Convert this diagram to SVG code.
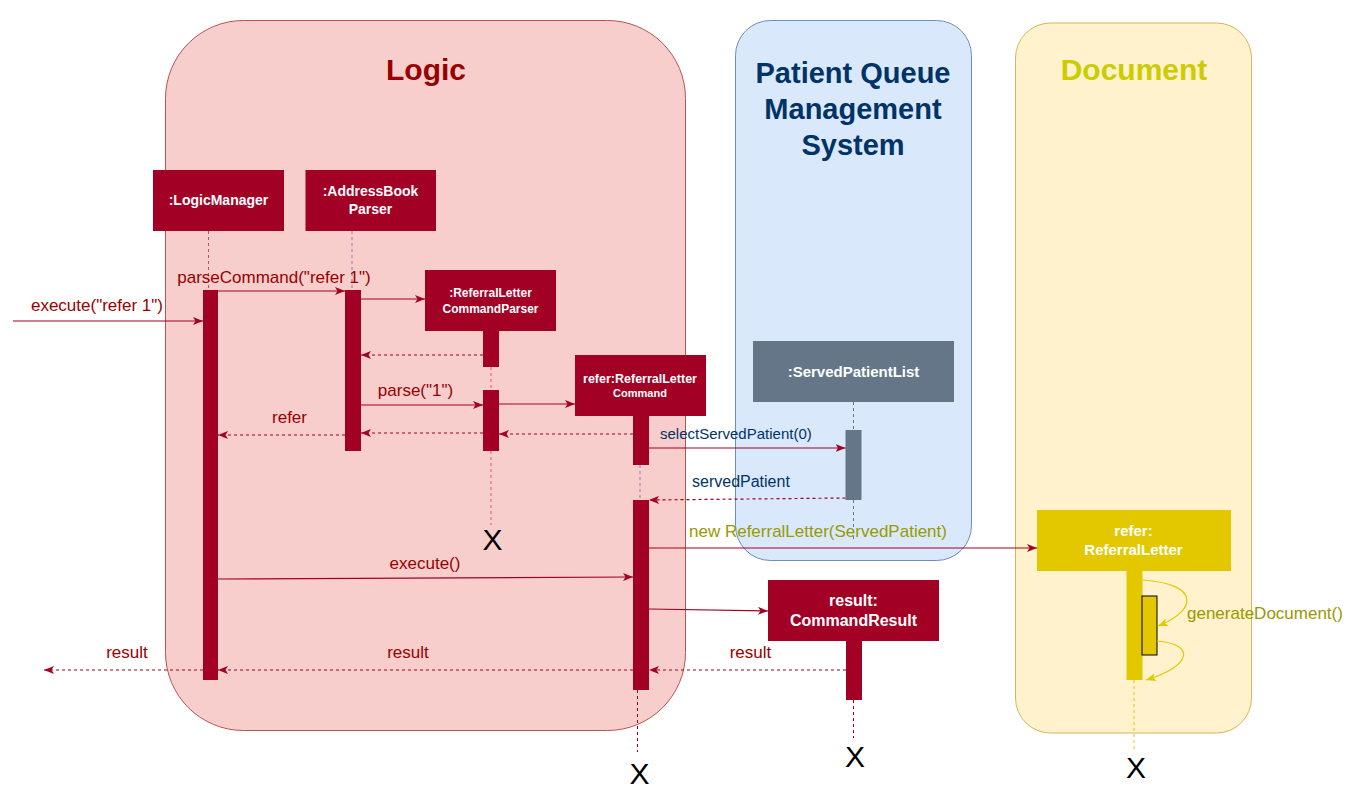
<svg xmlns="http://www.w3.org/2000/svg" width="1363" height="811" viewBox="0 0 1363 811">
<style>
text{font-family:"Liberation Sans",Arial,Helvetica,sans-serif}
.title{font-weight:bold;font-size:30px;text-anchor:middle}
.lbl{font-size:17px;fill:#990000;text-anchor:middle}
.nt{font-weight:bold;fill:#ffffff;text-anchor:middle}
.box{fill:#a20025}
.msg{stroke:#a20025;stroke-width:1.2;fill:none;marker-end:url(#arr)}
.ret{stroke:#a20025;stroke-width:1.2;fill:none;stroke-dasharray:3 3;marker-end:url(#arr)}
.life{stroke:#a20025;stroke-width:1;fill:none;stroke-dasharray:3 3}
.xx{font-size:30px;fill:#000000;text-anchor:middle}
</style>
<defs>
<marker id="arr" viewBox="0 0 10 8" refX="10" refY="4" markerWidth="10" markerHeight="8" markerUnits="userSpaceOnUse" orient="auto">
<path d="M0,0 L10,4 L0,8 L2.5,4 Z" fill="#a20025"/>
</marker>
<marker id="arrY" viewBox="0 0 10 8" refX="10" refY="4" markerWidth="10" markerHeight="8" markerUnits="userSpaceOnUse" orient="auto">
<path d="M0,0 L10,4 L0,8 L2.5,4 Z" fill="#e3c800"/>
</marker>
</defs>
<rect width="1363" height="811" fill="#ffffff"/>

<g id="logic-container">
<rect x="165.5" y="20.5" width="520" height="710" rx="78" ry="78" fill="#f8cecc" stroke="#b85450"/>
<text class="title" x="426" y="80" fill="#990000">Logic</text>
</g>
<g id="pqms-container">
<rect x="735.5" y="20.5" width="236" height="540" rx="35" ry="35" fill="#dae8fc" stroke="#6c8ebf"/>
<text class="title" x="853" y="83" fill="#003366" style="font-size:29px">Patient Queue</text>
<text class="title" x="853" y="119" fill="#003366" style="font-size:29px">Management</text>
<text class="title" x="853" y="155" fill="#003366" style="font-size:29px">System</text>
</g>
<g id="document-container">
<rect x="1015.5" y="23" width="236" height="710" rx="35" ry="35" fill="#fff2cc" stroke="#d6b656"/>
<text class="title" x="1134" y="80" fill="#cccc00">Document</text>
</g>

<g id="logicManager">
<rect class="box" x="153" y="170" width="131" height="61"/>
<text class="nt" x="218.5" y="205" style="font-size:14px">:LogicManager</text>
<line x1="208.5" y1="231" x2="208.5" y2="290" stroke="#c0506a" stroke-dasharray="3 3"/>
<rect class="box" x="203" y="290" width="15" height="390"/>
</g>

<g id="addressBookParser">
<rect class="box" x="305.5" y="170" width="130.5" height="61"/>
<text class="nt" x="370.5" y="196" style="font-size:14px">:AddressBook</text>
<text class="nt" x="370.5" y="214" style="font-size:14px">Parser</text>
<line x1="352" y1="231" x2="352" y2="290" stroke="#9673a6" stroke-dasharray="3 3"/>
<rect class="box" x="345" y="290" width="16" height="161"/>
</g>

<g id="referralLetterCommandParser">
<rect class="box" x="425" y="270" width="131" height="61"/>
<text class="nt" x="490.5" y="297" style="font-size:12px">:ReferralLetter</text>
<text class="nt" x="490.5" y="313" style="font-size:12px">CommandParser</text>
<rect class="box" x="483" y="331" width="16" height="36"/>
<line x1="491" y1="367" x2="491" y2="390" stroke="#d0607a" stroke-dasharray="3 3"/>
<rect class="box" x="483" y="390" width="16" height="61"/>
<line x1="491" y1="451" x2="491" y2="525" stroke="#d0607a" stroke-dasharray="3 3"/>
<text class="xx" x="492.5" y="550">X</text>
</g>

<g id="referralLetterCommand">
<rect class="box" x="575" y="355" width="131" height="61"/>
<text class="nt" x="640" y="383" style="font-size:12.5px">refer:ReferralLetter</text>
<text class="nt" x="640" y="397" style="font-size:11px">Command</text>
<rect class="box" x="633" y="415" width="16" height="50"/>
<line x1="640" y1="465" x2="640" y2="500" stroke="#9673a6" stroke-dasharray="3 3"/>
<rect class="box" x="633" y="500" width="16" height="190"/>
<line x1="637.5" y1="690" x2="637.5" y2="752" class="life"/>
<text class="xx" x="639.5" y="784">X</text>
</g>

<g id="servedPatientList">
<rect x="753" y="341" width="201" height="61" fill="#647687"/>
<text class="nt" x="853.5" y="377" style="font-size:15px">:ServedPatientList</text>
<line x1="853.5" y1="402" x2="853.5" y2="430" stroke="#647687" stroke-dasharray="3 3"/>
<rect x="845.5" y="430" width="16" height="70" fill="#647687"/>
<line x1="853.5" y1="500" x2="853.5" y2="540" stroke="#647687" stroke-dasharray="3 3"/>
</g>

<g id="commandResult">
<rect class="box" x="768" y="580" width="171" height="61"/>
<text class="nt" x="853.5" y="606" style="font-size:16px">result:</text>
<text class="nt" x="853.5" y="626" style="font-size:16px">CommandResult</text>
<rect class="box" x="846" y="640" width="16" height="60"/>
<line x1="853.5" y1="700" x2="853.5" y2="738" class="life"/>
<text class="xx" x="855" y="767">X</text>
</g>

<g id="referralLetter">
<rect x="1037" y="510" width="194" height="61" fill="#e3c800"/>
<text class="nt" x="1133.5" y="536" style="font-size:15px">refer:</text>
<text class="nt" x="1133.5" y="555" style="font-size:15px">ReferralLetter</text>
<rect x="1126.5" y="570" width="16" height="110" fill="#e3c800"/>
<rect x="1142" y="596" width="15" height="59" fill="#e3c800" stroke="#000000" stroke-width="1"/>
<line x1="1134" y1="680" x2="1134" y2="750" stroke="#e3c800" stroke-dasharray="3 3"/>
<text class="xx" x="1136" y="778">X</text>
</g>

<g id="connectors">
<path class="msg" d="M13,321 H203"/>
<path class="msg" d="M218,291 H345"/>
<path class="msg" d="M361,299 H425"/>
<path class="ret" d="M483,355 H361"/>
<path class="msg" d="M361,405 H483"/>
<path class="msg" d="M499,404 H575"/>
<path class="ret" d="M633,434 H499"/>
<path class="ret" d="M483,433 H361"/>
<path class="ret" d="M345,435 H218"/>
<path class="msg" d="M649,448 H845.5"/>
<path class="ret" d="M845.5,498 L649,500"/>
<path class="msg" d="M649,548 H1037"/>
<path class="msg" d="M218,579 L633,577"/>
<path class="msg" d="M649,609 L768,611"/>
<path class="ret" d="M846,670 H649"/>
<path class="ret" d="M633,670 H218"/>
<path class="ret" d="M203,670 H44"/>
<path d="M1142.5,580 C1200,584 1198,610 1158,626" fill="none" stroke="#e3c800" stroke-width="1.2" marker-end="url(#arrY)"/>
<path d="M1157,641 C1196,644 1192,666 1146,680" fill="none" stroke="#e3c800" stroke-width="1.2" marker-end="url(#arrY)"/>

<text class="lbl" x="97" y="311">execute("refer 1")</text>
<text class="lbl" x="274" y="283">parseCommand("refer 1")</text>
<text class="lbl" x="415.5" y="396">parse("1")</text>
<text class="lbl" x="289.5" y="423">refer</text>
<text x="660" y="439" style="font-size:15px" fill="#003366">selectServedPatient(0)</text>
<text x="692" y="487" style="font-size:16px" fill="#003366">servedPatient</text>
<text x="689" y="537" style="font-size:17px" fill="#999900">new ReferralLetter(ServedPatient)</text>
<text class="lbl" x="425" y="569">execute()</text>
<text class="lbl" x="408" y="658">result</text>
<text class="lbl" x="750.5" y="658">result</text>
<text class="lbl" x="127" y="658">result</text>
<text x="1187" y="619" style="font-size:17px" fill="#999900">generateDocument()</text>
</g>
</svg>
